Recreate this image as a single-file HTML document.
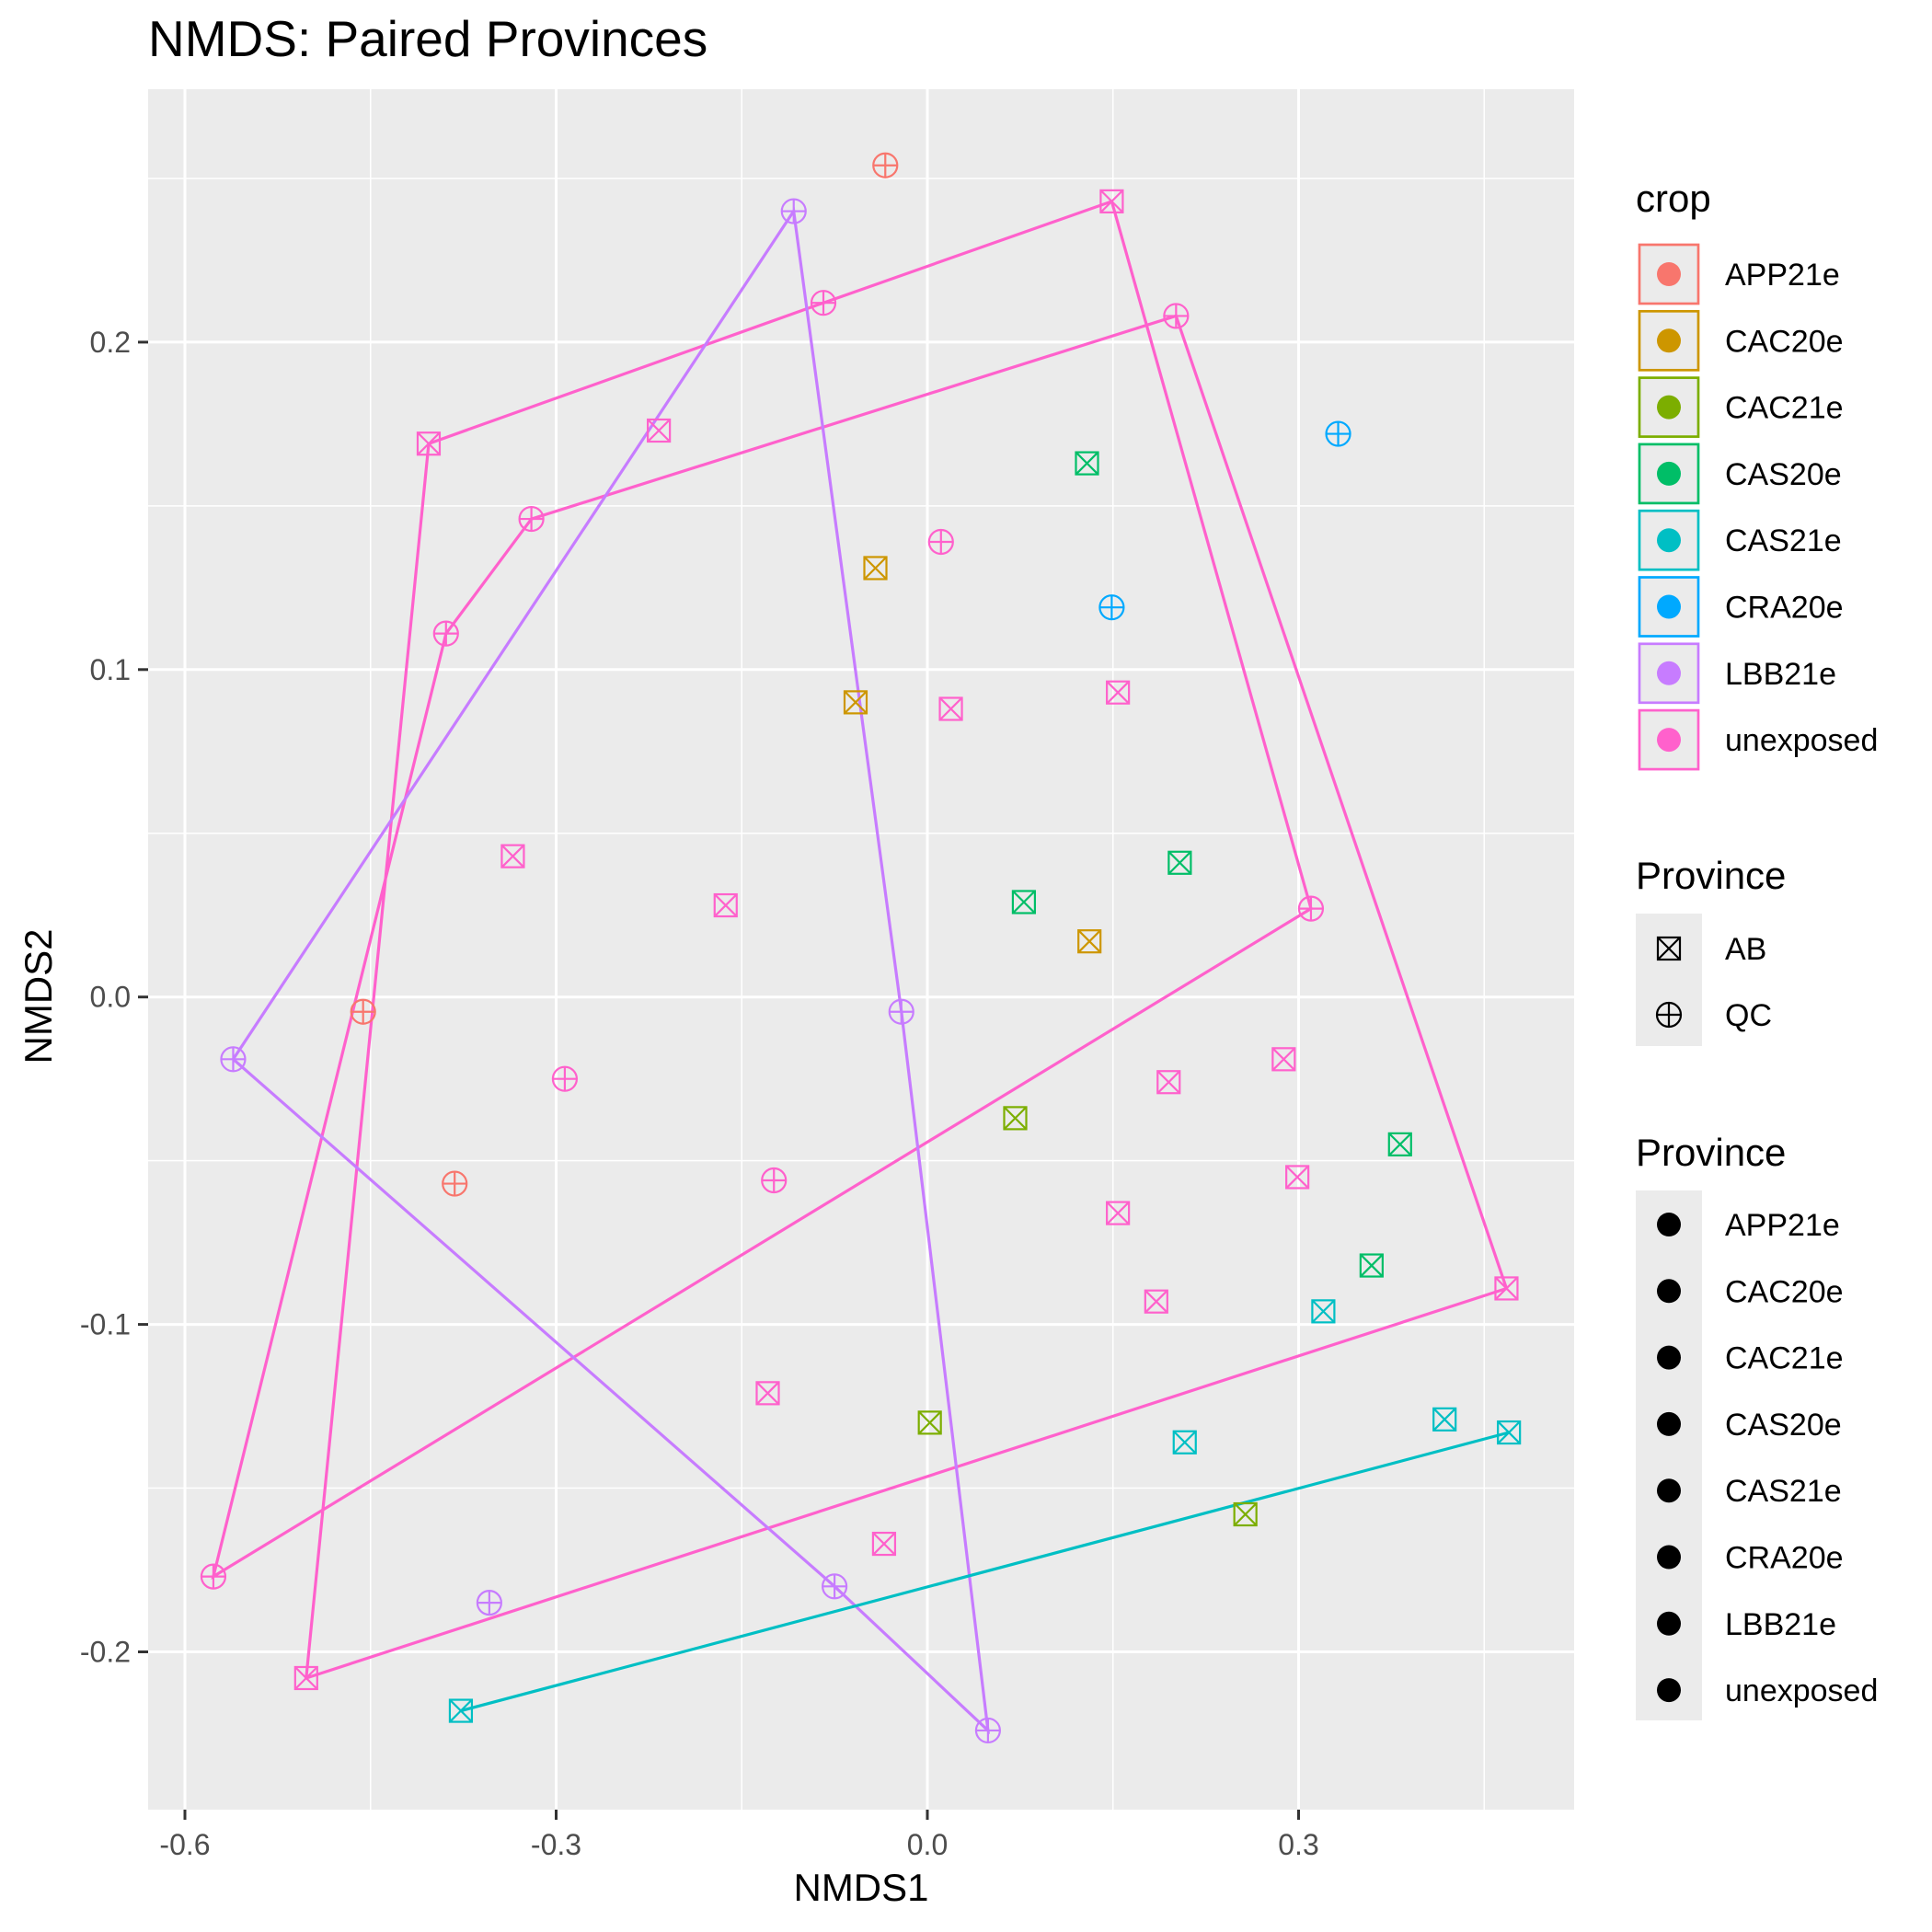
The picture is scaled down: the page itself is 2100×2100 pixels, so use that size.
<!DOCTYPE html>
<html><head><meta charset="utf-8"><style>body{margin:0;background:#fff}svg{display:block;font-family:"Liberation Sans",Arial,sans-serif}</style></head>
<body>
<svg id="chart" width="2100" height="2100" viewBox="0 0 2100 2100" xmlns="http://www.w3.org/2000/svg">
<text x="161" y="61" font-size="55" fill="#000">NMDS: Paired Provinces</text>
<rect x="161" y="97" width="1550" height="1870" fill="#ebebeb"/>
<g id="grid"></g><g id="paths"></g><g id="points"></g><g id="axes"></g><g id="legend"></g>
<text x="936" y="2066" font-size="42" text-anchor="middle">NMDS1</text>
<text transform="translate(56,1083) rotate(-90)" font-size="42" text-anchor="middle">NMDS2</text>
</svg>
<script>
const crops=["APP21e","CAC20e","CAC21e","CAS20e","CAS21e","CRA20e","LBB21e","unexposed"];
const colors=["#F8766D","#CD9600","#7CAE00","#00BE67","#00BFC4","#00A9FF","#C77CFF","#FF61CC"];
const xTicks=[-0.6,-0.3,0.0,0.3];
const xTickLabels=["-0.6","-0.3","0.0","0.3"];
const yTicks=[-0.2,-0.1,0.0,0.1,0.2];
const yTickLabels=["-0.2","-0.1","0.0","0.1","0.2"];
const xMinor=[-0.45,-0.15,0.15,0.45];
const yMinor=[-0.25,-0.15,-0.05,0.05,0.15,0.25];
const ptCrop=[0,0,0, 1,1,1, 2,2,2, 3,3,3,3,3, 4,4,4,4,4, 5,5, 6,6,6,6,6,6,
 7,7,7,7,7,7,7,7,7,7,7,7,7,7,7,7, 7,7,7,7,7,7,7,7,7];
const ptProv=[1,1,1, 0,0,0, 0,0,0, 0,0,0,0,0, 0,0,0,0,0, 1,1, 1,1,1,1,1,1,
 0,0,0,0,0,0,0,0,0,0,0,0,0,0,0,0, 1,1,1,1,1,1,1,1,1];
const ptX=[-0.034,-0.456,-0.382, -0.042,-0.058,0.131, 0.071,0.002,0.257, 0.129,0.204,0.078,0.382,0.359,
 -0.377,0.208,0.320,0.418,0.470, 0.332,0.149, -0.108,-0.561,-0.021,-0.354,-0.075,0.049,
 0.149,-0.403,-0.217,-0.335,-0.163,0.019,0.154,0.195,0.288,0.299,0.154,0.185,-0.129,-0.035,-0.502,0.468,
 -0.084,0.201,-0.320,-0.389,0.011,-0.293,-0.124,0.310,-0.577];
const ptY=[0.254,-0.0045,-0.057, 0.131,0.090,0.017, -0.037,-0.130,-0.158, 0.163,0.041,0.029,-0.045,-0.082,
 -0.218,-0.136,-0.096,-0.129,-0.133, 0.172,0.119, 0.240,-0.019,-0.0045,-0.185,-0.180,-0.224,
 0.243,0.169,0.173,0.043,0.028,0.088,0.093,-0.026,-0.019,-0.055,-0.066,-0.093,-0.121,-0.167,-0.208,-0.089,
 0.212,0.208,0.146,0.111,0.139,-0.025,-0.056,0.027,-0.177];
const pathCrop=[7,6,4];
const pathIdx=[[28,43,27,50,51,46,45,44,42,41,28],[22,21,23,26,25,22],[14,18]];
const X=v=>1008+v*1345, Y=v=>1083.7-v*3559;
const NS="http://www.w3.org/2000/svg";
function mk(tag,at,parent){const e=document.createElementNS(NS,tag);for(const k in at)e.setAttribute(k,at[k]);parent.appendChild(e);return e;}
const grid=document.getElementById('grid');
xMinor.forEach(v=>{const l=mk('line',{x1:X(v),x2:X(v),y1:97,y2:1967,stroke:'#fff','stroke-width':1.5},grid);

});
yMinor.forEach(v=>{const l=mk('line',{x1:161,x2:1711,y1:Y(v),y2:Y(v),stroke:'#fff','stroke-width':1.5},grid);

});
const axes=document.getElementById('axes');
xTicks.forEach((v,i)=>{const l=mk('line',{x1:X(v),x2:X(v),y1:97,y2:1967,stroke:'#fff','stroke-width':3},grid);


const t=mk('line',{x1:X(v),x2:X(v),y1:1967,y2:1978,stroke:'#333','stroke-width':3},axes);


const tx=mk('text',{x:X(v),y:2016,'font-size':32,fill:'#4d4d4d','text-anchor':'middle'},axes);tx.textContent=xTickLabels[i];

});
yTicks.forEach((v,i)=>{const l=mk('line',{x1:161,x2:1711,y1:Y(v),y2:Y(v),stroke:'#fff','stroke-width':3},grid);


const t=mk('line',{x1:150,x2:161,y1:Y(v),y2:Y(v),stroke:'#333','stroke-width':3},axes);


const tx=mk('text',{x:142,y:Y(v)+11,'font-size':32,fill:'#4d4d4d','text-anchor':'end'},axes);tx.textContent=yTickLabels[i];

});
const pg=document.getElementById('paths');
pathIdx.forEach((idx,p)=>{const d=idx.map((k,j)=>(j?'L':'M')+X(ptX[k]).toFixed(1)+','+Y(ptY[k]).toFixed(1)).join('');
const e=mk('path',{d:d,fill:'none',stroke:colors[pathCrop[p]],'stroke-width':3.2},pg);

});
function marker(g,cx,cy,prov,col){
 if(prov===0){mk('rect',{x:cx-12,y:cy-12,width:24,height:24,fill:'none',stroke:col,'stroke-width':2.2},g);
  mk('path',{d:`M${cx-12},${cy-12}L${cx+12},${cy+12}M${cx+12},${cy-12}L${cx-12},${cy+12}`,stroke:col,'stroke-width':2.2},g);}
 else{mk('circle',{cx:cx,cy:cy,r:13,fill:'none',stroke:col,'stroke-width':2.2},g);
  mk('path',{d:`M${cx-13},${cy}L${cx+13},${cy}M${cx},${cy-13}L${cx},${cy+13}`,stroke:col,'stroke-width':2.2},g);}
}
const pts=document.getElementById('points');
ptX.forEach((v,i)=>{const g=mk('g',{},pts);


marker(g,X(v),Y(ptY[i]),ptProv[i],colors[ptCrop[i]]);});
const lg=document.getElementById('legend');
function txt(x,y,s,sz,name){const t=mk('text',{x:x,y:y,'font-size':sz,fill:'#000'},lg);t.textContent=s;

return t;}
txt(1778,230,'crop',42,'legend-title-crop');
crops.forEach((c,i)=>{const y=264+i*72.3;const g=mk('g',{},lg);


mk('rect',{x:1782,y:y+2,width:64,height:64,fill:'#ebebeb',stroke:colors[i],'stroke-width':2.7},g);
mk('circle',{cx:1814,cy:y+34,r:13,fill:colors[i]},g);
txt(1875,y+46,c,34,'legend-label');});
txt(1778,966,'Province',42,'legend-title-province');
mk('rect',{x:1778,y:993,width:72,height:144,fill:'#ebebeb'},lg);
['AB','QC'].forEach((p,i)=>{const y=1031+i*72;const g=mk('g',{},lg);


marker(g,1814,y,i,'#000');txt(1875,y+12,p,34,'legend-label');});
txt(1778,1267,'Province',42,'legend-title-province-2');
mk('rect',{x:1778,y:1294,width:72,height:576,fill:'#ebebeb'},lg);
crops.forEach((c,i)=>{const y=1331+i*72.3;const g=mk('g',{},lg);


mk('circle',{cx:1814,cy:y,r:13,fill:'#000'},g);txt(1875,y+12,c,34,'legend-label');});
</script>
</body></html>
